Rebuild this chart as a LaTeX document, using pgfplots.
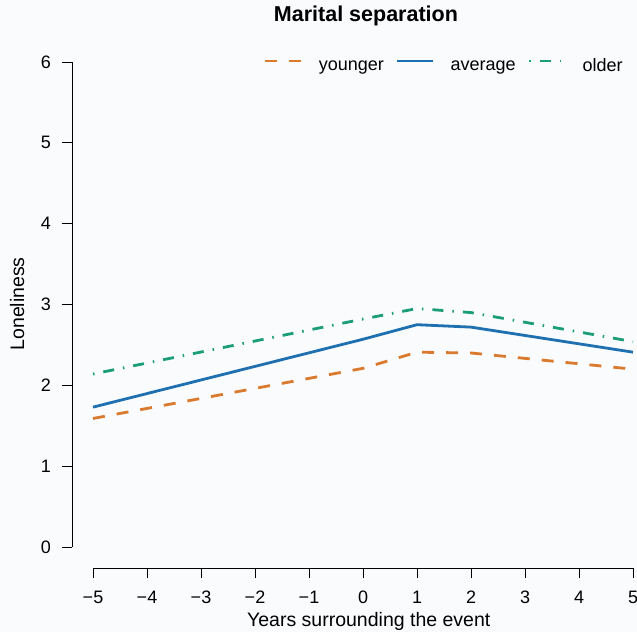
\documentclass[border=0pt]{standalone}
\usepackage{pgfplots}
\pgfplotsset{compat=1.18}
\usepackage{fontspec}
\setmainfont{Liberation Sans}
\definecolor{cOrange}{HTML}{D97A2E}
\definecolor{cBlue}{HTML}{1F70B0}
\definecolor{cGreen}{HTML}{1B9E77}
\definecolor{bgcol}{HTML}{FAFBFD}
\begin{document}
\begin{tikzpicture}
\fill[bgcol] (-72pt,-64pt) rectangle (565pt,568pt);
\begin{axis}[
  scale only axis,
  width=561pt, height=506pt,
  xmin=-5.389, xmax=5, ymin=-0.26, ymax=6,
  clip=false,
  axis x line*=bottom, axis y line*=left,
  axis line style={draw=none},
  tick align=outside,
  major tick length=10pt,
  tick style={black, line width=0.9pt},
  xtick={-5,-4,-3,-2,-1,0,1,2,3,4,5},
  xticklabels={−5,−4,−3,−2,−1,0,1,2,3,4,5},
  ytick={0,1,2,3,4,5,6},
  /pgf/number format/assume math mode=true,
  ticklabel style={font=\fontsize{18}{20}\selectfont, inner sep=0pt},
  xticklabel style={yshift=-13pt},
  yticklabel style={xshift=-11pt},
  xlabel={Years surrounding the event},
  ylabel={Loneliness},
  title={Marital separation},
  label style={font=\fontsize{19.5}{22}\selectfont, inner sep=0pt},
  xlabel style={at={(axis description cs:0.529,-0.1166)}, anchor=base},
  ylabel style={at={(axis description cs:-0.0855,0.522)}, anchor=base},
  title style={font=\fontsize{21.5}{24}\selectfont\bfseries, inner sep=0pt, at={(axis description cs:0.524,1.069)}, anchor=base},
  legend columns=3,
  legend style={draw=none, fill=none, at={(axis description cs:0.342,0.992)}, anchor=west,
    font=\fontsize{18}{20}\selectfont, inner sep=0pt,
    nodes={inner sep=0pt},
    /tikz/every even column/.append style={column sep=12pt}},
  legend image code/.code={\draw[#1] (0pt,5pt) -- (36pt,5pt); \path (0pt,0pt) (52pt,0pt);},
]
\addplot[cOrange, line width=2.8pt, dash pattern=on 12pt off 12pt] coordinates {(-5,1.59) (0,2.21) (1,2.41) (2,2.40) (5,2.20)};
\addlegendentry{younger}
\addplot[cBlue, line width=2.8pt] coordinates {(-5,1.73) (0,2.57) (1,2.75) (2,2.72) (5,2.41)};
\addlegendentry{average}
\addplot[cGreen, line width=2.8pt, dash pattern=on 1.5pt off 9pt on 11pt off 9pt] coordinates {(-5,2.14) (0,2.82) (1,2.95) (2,2.90) (5,2.54)};
\addlegendentry{older}
\draw[black, line width=0.9pt] (axis cs:-5,-0.26) -- (axis cs:5,-0.26);
\draw[black, line width=0.9pt] (axis cs:-5.389,0) -- (axis cs:-5.389,6);
\end{axis}
\pgfresetboundingbox
\useasboundingbox (-72pt,-64pt) rectangle (565pt,568pt);
\end{tikzpicture}
\end{document}
